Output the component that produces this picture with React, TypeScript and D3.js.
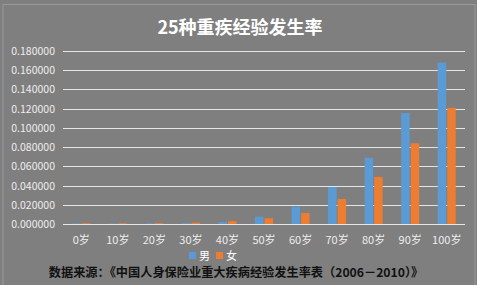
import React from "react";
import * as d3 from "d3";

const categories = ["0岁", "10岁", "20岁", "30岁", "40岁", "50岁", "60岁", "70岁", "80岁", "90岁", "100岁"];
const male = [0.0005, 0.0005, 0.0005, 0.0008, 0.002, 0.0076, 0.018, 0.0385, 0.0688, 0.1155, 0.168];
const female = [0.0008, 0.0007, 0.0009, 0.0015, 0.003, 0.006, 0.0114, 0.026, 0.049, 0.084, 0.1208];
const yTicks = [0, 0.02, 0.04, 0.06, 0.08, 0.1, 0.12, 0.14, 0.16, 0.18];
const seriesNames = ["男", "女"];
const title = "25种重疾经验发生率";
const source = "数据来源：《中国人身保险业重大疾病经验发生率表（2006－2010）》";

const W = 477, H = 285;
const BG = "#7f7f7f";
const BLUE = "#5b9bd5";
const ORANGE = "#ed7d31";
const FONT = "'Noto Sans CJK SC', 'Microsoft YaHei', sans-serif";

export default function App() {
  const x = d3.scaleBand().domain(categories).range([63, 465]);
  const y = d3.scaleLinear().domain([0, 0.18]).range([224, 51]);
  const barW = 8.5;
  const gap = 1;
  return (
    <svg width={W} height={H} style={{ position: "absolute", left: 0, top: 0 }}>
      <rect x={0} y={0} width={W} height={H} fill={BG} />
      <rect x={3} y={4.5} width={W - 5} height={H} fill="none" stroke="#9a9a9a" strokeWidth={1} />
      <text x={240} y={34} textAnchor="middle" fill="#ffffff" fontSize={18} fontWeight="bold" fontFamily={FONT}>
        {title}
      </text>
      {yTicks.map((t) => (
        <g key={t}>
          <line x1={63} x2={465} y1={Math.round(y(t)) + 0.5} y2={Math.round(y(t)) + 0.5} stroke="#e6e6e6" strokeWidth={1} />
          <text x={55} y={y(t) + 4} textAnchor="end" fill="#eeeeee" fontSize={10.5} fontFamily={FONT}>
            {t.toFixed(6)}
          </text>
        </g>
      ))}
      {categories.map((c, i) => {
        const cx = (x(c) as number) + x.bandwidth() / 2;
        return (
          <g key={c}>
            <rect x={cx - gap / 2 - barW} y={y(male[i])} width={barW} height={y(0) - y(male[i])} fill={BLUE} />
            <rect x={cx + gap / 2} y={y(female[i])} width={barW} height={y(0) - y(female[i])} fill={ORANGE} />
            <text x={cx} y={244} textAnchor="middle" fill="#eeeeee" fontSize={11} fontFamily={FONT}>
              {c}
            </text>
          </g>
        );
      })}
      <rect x={189} y={252} width={7} height={7} fill={BLUE} />
      <text x={199} y={259.5} fill="#ffffff" fontSize={11} fontFamily={FONT}>{seriesNames[0]}</text>
      <rect x={216} y={252} width={7} height={7} fill={ORANGE} />
      <text x={226} y={259.5} fill="#ffffff" fontSize={11} fontFamily={FONT}>{seriesNames[1]}</text>
      <text x={236} y={276.5} textAnchor="middle" fill="#111111" fontSize={12.2} fontWeight="bold" fontFamily={FONT}>
        {source}
      </text>
    </svg>
  );
}
